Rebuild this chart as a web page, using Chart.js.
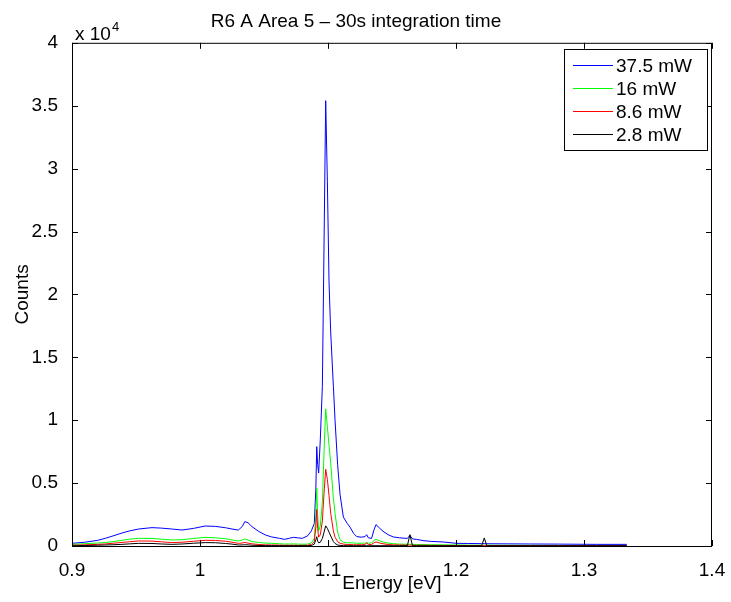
<!DOCTYPE html>
<html>
<head>
<meta charset="utf-8">
<script src="https://cdn.jsdelivr.net/npm/chart.js@4/dist/chart.umd.min.js"></script>
<style>
    html, body { margin: 0; padding: 0; background: #fff; }
    canvas { display: block; }
</style>
</head>
<body>
<canvas id="spectrum-chart" width="731" height="602"></canvas>
<script>
// 能量 (eV)
const energy = [
    0.900, 0.910, 0.920, 0.926, 0.932, 0.939, 0.945, 0.952, 0.9625, 0.970,
    0.978, 0.986, 0.995, 1.004, 1.012, 1.020, 1.025, 1.030, 1.033, 1.035,
    1.0375, 1.0406, 1.046, 1.051, 1.056, 1.062, 1.066, 1.070, 1.073, 1.077,
    1.080, 1.084, 1.087, 1.0893, 1.0905, 1.0912, 1.0919, 1.0927, 1.0940, 1.0956,
    1.0969, 1.0982, 1.0995, 1.1008, 1.1021, 1.1042, 1.1055, 1.1075, 1.1094, 1.1120,
    1.1150, 1.1172, 1.1200, 1.1224, 1.1260, 1.1290, 1.1302, 1.1315, 1.1340, 1.1360,
    1.1375, 1.1400, 1.1430, 1.1470, 1.1510, 1.1560, 1.1620, 1.1640, 1.1660, 1.1690,
    1.1750, 1.1800, 1.1900, 1.2005, 1.2100, 1.2200, 1.2221, 1.2240, 1.2400, 1.2580,
    1.2800, 1.3100, 1.3334
];

// 各功率下的计数
const counts375 = [
    210, 300, 450, 610, 800, 1030, 1200, 1350, 1460, 1420,
    1350, 1270, 1400, 1590, 1560, 1450, 1350, 1270, 1550, 1940,
    1850, 1540, 1150, 880, 720, 610, 530, 620, 690, 640,
    610, 800, 1200, 1800, 4500, 7900, 6500, 5800, 8500, 12700,
    24000, 35400, 29000, 21000, 17000, 12700, 10000, 6500, 4100, 2300,
    1800, 1500, 1000, 750, 700, 750, 900, 650, 600, 1300,
    1700, 1450, 1170, 900, 720, 650, 600, 850, 560, 530,
    420, 370, 320, 210, 200, 186, 190, 180, 170, 160,
    150, 130, 130
];
const counts16 = [
    130, 180, 240, 270, 350, 450, 540, 610, 600, 540,
    480, 500, 600, 690, 650, 580, 480, 400, 480, 560,
    480, 350, 280, 230, 210, 180, 160, 160, 170, 150,
    140, 150, 250, 600, 2500, 4600, 2500, 1200, 1600, 3500,
    7500, 10900, 9500, 8000, 6600, 3800, 2600, 1100, 500, 300,
    260, 250, 240, 220, 220, 230, 250, 220, 250, 450,
    530, 420, 320, 230, 180, 150, 140, 140, 130, 120,
    110, 100, 90, 80, 70, 60, 60, 60, 55, 50,
    45, 40, 40
];
const counts86 = [
    60, 90, 130, 160, 220, 280, 340, 400, 390, 330,
    270, 300, 380, 450, 440, 380, 300, 210, 240, 280,
    230, 170, 120, 90, 80, 70, 60, 60, 60, 55,
    55, 60, 120, 350, 1500, 2900, 1400, 700, 900, 2000,
    4200, 6100, 5300, 4000, 2600, 1200, 700, 350, 220, 150,
    120, 110, 100, 100, 100, 110, 260, 110, 120, 260,
    320, 250, 180, 120, 90, 80, 70, 70, 65, 60,
    55, 50, 45, 40, 35, 30, 30, 30, 30, 25,
    25, 20, 20
];
const counts28 = [
    20, 40, 60, 80, 100, 130, 170, 210, 200, 160,
    130, 160, 220, 270, 260, 200, 150, 80, 90, 100,
    90, 60, 40, 30, 30, 25, 25, 25, 25, 25,
    25, 25, 40, 150, 500, 740, 400, 250, 300, 600,
    1100, 1600, 1400, 1100, 800, 350, 200, 80, 50, 30,
    25, 25, 25, 25, 25, 25, 25, 25, 25, 25,
    25, 25, 25, 25, 25, 25, 25, 900, 25, 20,
    20, 20, 20, 20, 20, 20, 640, 20, 20, 20,
    20, 20, 20
];

const seriesLabels = ['37.5 mW', '16 mW', '8.6 mW', '2.8 mW'];
const seriesColors = ['#0000ff', '#00ff00', '#ff0000', '#000000'];
const seriesCounts = [counts375, counts16, counts86, counts28];

// 刻度
const xTicks = [0.9, 1.0, 1.1, 1.2, 1.3, 1.4];
const yTicks = [0, 5000, 10000, 15000, 20000, 25000, 30000, 35000, 40000];

const FONT = "'Liberation Sans', Arial, Helvetica, sans-serif";

// MATLAB 风格的边框和内向刻度
const matlabAxes = {
    id: 'matlabAxes',
    afterDatasetsDraw(chart) {
        const { ctx, chartArea: a, scales } = chart;
        ctx.save();
        ctx.strokeStyle = '#000';
        ctx.lineWidth = 1;
        ctx.beginPath();
        scales.x.ticks.forEach(t => {
            const px = Math.round(scales.x.getPixelForValue(t.value)) + 0.5;
            ctx.moveTo(px, a.bottom);
            ctx.lineTo(px, a.bottom - 6);
            ctx.moveTo(px, a.top);
            ctx.lineTo(px, a.top + 6);
        });
        scales.y.ticks.forEach(t => {
            const py = Math.round(scales.y.getPixelForValue(t.value)) + 0.5;
            ctx.moveTo(a.left, py);
            ctx.lineTo(a.left + 6, py);
            ctx.moveTo(a.right, py);
            ctx.lineTo(a.right - 6, py);
        });
        ctx.stroke();
        ctx.strokeRect(a.left + 0.5, a.top + 0.5, a.right - a.left - 1, a.bottom - a.top);

        // 指数标记 x 10^4
        ctx.fillStyle = '#000';
        ctx.textAlign = 'left';
        ctx.textBaseline = 'alphabetic';
        ctx.font = '19px ' + FONT;
        ctx.fillText('x 10', a.left + 3, a.top - 3);
        const w = ctx.measureText('x 10').width;
        ctx.font = '13px ' + FONT;
        ctx.fillText('4', a.left + 3 + w + 1, a.top - 12);
        ctx.restore();
    },
    afterDraw(chart) {
        // 图例框
        const { ctx } = chart;
        const box = { x: 564, y: 49, w: 143, h: 101 };
        ctx.save();
        ctx.fillStyle = '#fff';
        ctx.fillRect(box.x, box.y, box.w, box.h);
        ctx.strokeStyle = '#000';
        ctx.lineWidth = 1;
        ctx.strokeRect(box.x + 0.5, box.y + 0.5, box.w, box.h);
        ctx.font = '19px ' + FONT;
        ctx.textBaseline = 'middle';
        ctx.textAlign = 'left';
        chart.data.datasets.forEach((ds, i) => {
            const y = Math.round(box.y + 16 + i * 23) + 0.5;
            ctx.strokeStyle = ds.borderColor;
            ctx.beginPath();
            ctx.moveTo(box.x + 9, y);
            ctx.lineTo(box.x + 49, y);
            ctx.stroke();
            ctx.fillStyle = '#000';
            ctx.fillText(ds.label, box.x + 52, y + 1);
        });
        ctx.restore();
    }
};

const ctx = document.getElementById('spectrum-chart').getContext('2d');

window.spectrumChart = new Chart(ctx, {
    type: 'line',
    data: {
        datasets: seriesLabels.map((label, i) => ({
            label: label,
            data: energy.map((e, k) => ({ x: e, y: seriesCounts[i][k] })),
            borderColor: seriesColors[i],
            borderWidth: 1,
            pointRadius: 0,
            tension: 0,
            fill: false,
            order: seriesLabels.length - i
        }))
    },
    options: {
        responsive: false,
        animation: false,
        layout: {
            padding: { left: 0, right: 19, top: 0, bottom: 0 }
        },
        scales: {
            x: {
                type: 'linear',
                min: 0.9,
                max: 1.4,
                afterBuildTicks: scale => { scale.ticks = xTicks.map(v => ({ value: v })); },
                afterFit: scale => { scale.height = 56; },
                grid: { display: false },
                border: { display: false },
                ticks: {
                    color: '#000',
                    padding: 5,
                    maxRotation: 0,
                    font: { family: FONT, size: 19 },
                    callback: v => String(+v.toFixed(1))
                },
                title: {
                    display: true,
                    text: 'Energy [eV]',
                    color: '#000',
                    padding: { top: 0, bottom: 7 },
                    font: { family: FONT, size: 19 }
                }
            },
            y: {
                type: 'linear',
                min: 0,
                max: 40000,
                afterBuildTicks: scale => { scale.ticks = yTicks.map(v => ({ value: v })); },
                afterFit: scale => { scale.width = 72; },
                grid: { display: false },
                border: { display: false },
                ticks: {
                    color: '#000',
                    padding: 6,
                    font: { family: FONT, size: 19 },
                    callback: v => String(v / 10000)
                },
                title: {
                    display: true,
                    text: 'Counts',
                    color: '#000',
                    padding: { top: 11, bottom: 0 },
                    font: { family: FONT, size: 19 }
                }
            }
        },
        plugins: {
            legend: { display: false },
            tooltip: { enabled: false },
            title: {
                display: true,
                text: 'R6 A Area 5 \u2013 30s integration time',
                color: '#000',
                padding: { top: 10, bottom: 10 },
                font: { family: FONT, size: 19, weight: 'normal' }
            }
        }
    },
    plugins: [matlabAxes]
});
</script>
</body>
</html>
